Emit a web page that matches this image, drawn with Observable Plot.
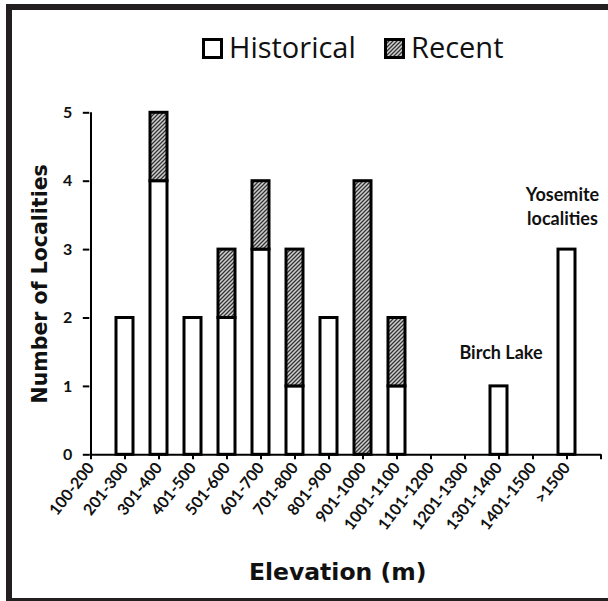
<!DOCTYPE html>
<html><head><meta charset="utf-8">
<script src="https://cdn.jsdelivr.net/npm/d3@7"></script>
<script src="https://cdn.jsdelivr.net/npm/@observablehq/plot@0.6"></script>
<style>
body{margin:0;background:#fff;}
#wrap{position:relative;width:608px;height:601px;overflow:hidden;background:#fff;}
#border{position:absolute;left:6px;top:4px;width:620px;height:588px;border:6px solid #231f20;pointer-events:none;}
#legend{position:relative;height:100px;}
.lg{position:absolute;font-family:"Open Sans",sans-serif;font-size:29px;color:#111;line-height:29px;white-space:nowrap;}
svg{display:block;}
#wrap g[aria-label$="tick label"], #wrap g[aria-label$="tick label"] text{font-size:16px !important;font-family:Lato,sans-serif !important;font-weight:bold !important;}
</style></head>
<body>
<div id="wrap">
  <div id="legend">
    <svg style="position:absolute;left:202px;top:38px" width="21" height="21"><rect x="1.5" y="1.5" width="18" height="18" fill="#fff" stroke="#000" stroke-width="3"/></svg>
    <div class="lg" style="left:229px;top:31.5px">Historical</div>
    <svg style="position:absolute;left:384px;top:38px" width="21" height="21"><rect x="1.5" y="1.5" width="18" height="18" fill="url(#hatch)" stroke="#000" stroke-width="3"/></svg>
    <div class="lg" style="left:411px;top:31.5px">Recent</div>
  </div>
  <div id="border"></div>
</div>
<svg width="0" height="0" style="position:absolute">
  <defs>
    <pattern id="hatch" patternUnits="userSpaceOnUse" width="4" height="4">
      <rect width="4" height="4" fill="#d0d0d0"/>
      <path d="M-1,1 l2,-2 M0,4 l4,-4 M3,5 l2,-2" stroke="#333" stroke-width="1.3"/>
    </pattern>
  </defs>
</svg>
<script>
const categories = ["100-200","201-300","301-400","401-500","501-600","601-700","701-800","801-900","901-1000","1001-1100","1101-1200","1201-1300","1301-1400","1401-1500",">1500"];
const historical = [0,2,4,2,2,3,1,2,0,1,0,0,1,0,3];
const recent     = [0,0,1,0,1,1,2,0,4,1,0,0,0,0,0];
const seriesNames = ["Historical","Recent"];
const yTicks = [0,1,2,3,4,5];
const noteYosemite = [{cat:">1500", y:3.65, label:"Yosemite\nlocalities"}];
const noteBirch = [{cat:"1301-1400", y:1.52, label:"Birch Lake"}];

const rows = [];
categories.forEach((c,i)=>{
  rows.push({cat:c, type:seriesNames[0], n:historical[i]});
  rows.push({cat:c, type:seriesNames[1], n:recent[i]});
});
const bars = rows.filter(d=>d.n>0);

const xLeft = 89.3, xRight = 601, step = (xRight-xLeft)/15;
const xDomain = [...categories, " "];
const noteStyle = {x:"cat", y:"y", text:"label", fontSize:18, fontWeight:"bold", fontFamily:"Lato, sans-serif", lineHeight:1.33, lineAnchor:"middle", textAnchor:"middle", fill:"#111"};

const chart = Plot.plot({
  width:608, height:501,
  marginLeft:xLeft, marginRight:608-xRight, marginTop:12.3, marginBottom:146.7,
  style:{fontFamily:"Lato, sans-serif", fontWeight:"bold", fontSize:"16px", color:"#111", background:"transparent", overflow:"visible"},
  x:{type:"band", domain:xDomain, range:[xLeft-step/2, xRight+step/2], paddingInner:0.51, paddingOuter:0.255, axis:null},
  y:{domain:[0,5], axis:null},
  color:{domain:seriesNames, range:["#fff","url(#hatch)"]},
  marks:[
    Plot.barY(bars, {x:"cat", y:"n", fill:"type", stroke:"#000", strokeWidth:3}),
    Plot.ruleY([0], {stroke:"#000", strokeWidth:2}),
    Plot.ruleX([xDomain[0]], {y1:0, y2:5, stroke:"#000", strokeWidth:2}),
    Plot.axisX({tickSize:5, tickRotate:-52, tickPadding:5, fontSize:16, stroke:"#000", strokeWidth:2, fill:"#111", label:null}),
    Plot.axisY({ticks:yTicks, tickFormat:d3.format("d"), tickSize:6.5, tickPadding:11, fontSize:16, stroke:"#000", strokeWidth:2, fill:"#111", label:null}),
    Plot.text(noteYosemite, {...noteStyle, dx:-4.5}),
    Plot.text(noteBirch, {...noteStyle, dx:2}),
    Plot.text(["Number of Localities"], {frameAnchor:"left", rotate:-90, dx:-49, textAnchor:"middle", lineAnchor:"middle", fontSize:20.5, fontWeight:"bold", fontFamily:"DejaVu Sans, sans-serif", fill:"#111"}),
    Plot.text(["Elevation (m)"], {frameAnchor:"bottom", dy:124.7, dx:-8, textAnchor:"middle", lineAnchor:"bottom", fontSize:23.5, fontWeight:"bold", fontFamily:"DejaVu Sans, sans-serif", fill:"#111"})
  ]
});
document.getElementById("wrap").appendChild(chart);
</script>
</body></html>
